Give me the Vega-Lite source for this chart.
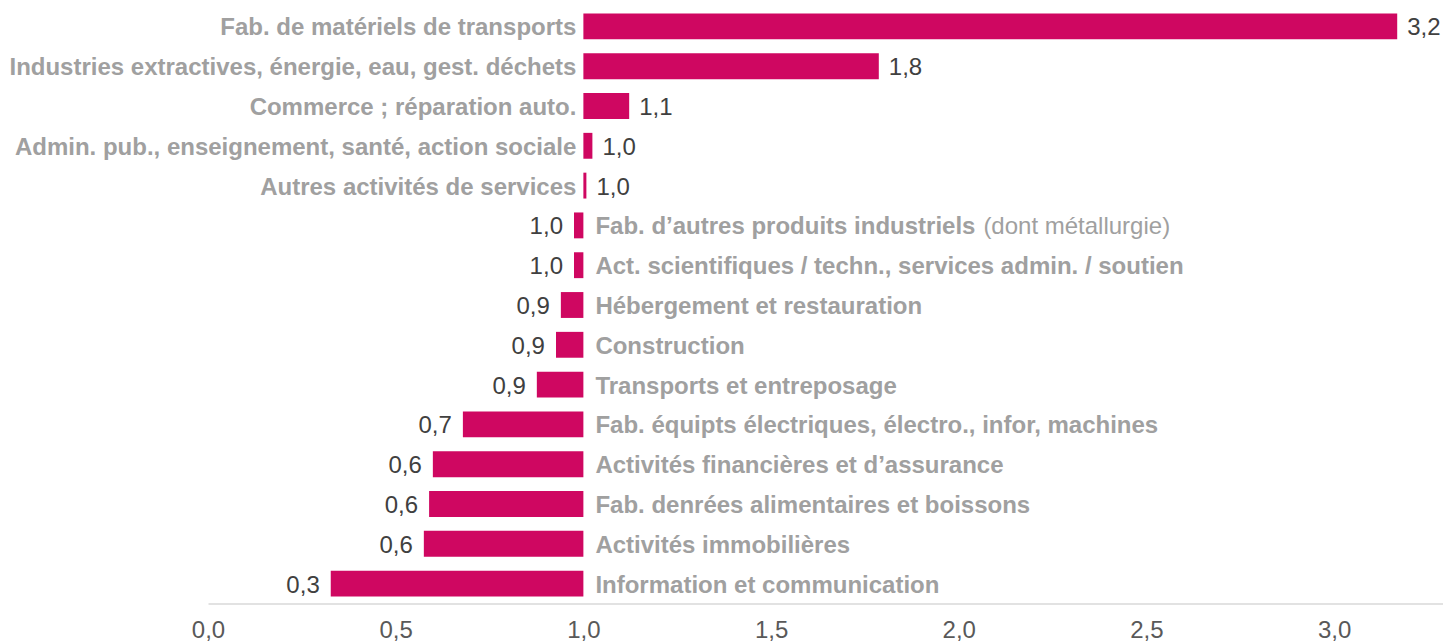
{
  "$schema": "https://vega.github.io/schema/vega-lite/v6.json",
  "width": 1235,
  "height": 597,
  "autosize": {"type": "none"},
  "padding": {"left": 208, "top": 6.5, "right": 0, "bottom": 39.5},
  "background": "white",
  "config": {
    "view": {"stroke": null},
    "font": "Liberation Sans",
    "locale": {"number": {"decimal": ",", "thousands": " ", "grouping": [3], "currency": ["", " €"]}}
  },
  "data": {
    "values": [
      {"cat": "Fab. de matériels de transports", "value": 3.168},
      {"cat": "Industries extractives, énergie, eau, gest. déchets", "value": 1.787},
      {"cat": "Commerce ; réparation auto.", "value": 1.122},
      {"cat": "Admin. pub., enseignement, santé, action sociale", "value": 1.024},
      {"cat": "Autres activités de services", "value": 1.008},
      {"cat": "Fab. d’autres produits industriels", "note": "(dont métallurgie)", "value": 0.975},
      {"cat": "Act. scientifiques / techn., services admin. / soutien", "value": 0.975},
      {"cat": "Hébergement et restauration", "value": 0.94},
      {"cat": "Construction", "value": 0.927},
      {"cat": "Transports et entreposage", "value": 0.876},
      {"cat": "Fab. équipts électriques, électro., infor, machines", "value": 0.679},
      {"cat": "Activités financières et d’assurance", "value": 0.599},
      {"cat": "Fab. denrées alimentaires et boissons", "value": 0.589},
      {"cat": "Activités immobilières", "value": 0.575},
      {"cat": "Information et communication", "value": 0.327}
    ]
  },
  "encoding": {
    "y": {"field": "cat", "type": "nominal", "sort": null, "axis": null,
          "scale": {"paddingInner": 0.35, "paddingOuter": 0.175}}
  },
  "layer": [
    {
      "mark": {"type": "bar", "color": "#cf0761"},
      "encoding": {
        "x": {"field": "value", "type": "quantitative",
              "scale": {"domain": [0, 3.29], "nice": false},
              "axis": {"values": [0, 0.5, 1, 1.5, 2, 2.5, 3], "format": ".1f", "title": null,
                       "grid": false, "ticks": false, "domainColor": "#d9d9d9", "domainWidth": 1.5,
                       "labelFlush": false, "labelOverlap": false,
                       "labelFontSize": 24, "labelColor": "#595959", "labelPadding": 15, "labelFont": "Liberation Sans"}},
        "x2": {"datum": 1}
      }
    },
    {
      "transform": [{"filter": "datum.value >= 1"}],
      "mark": {"type": "text", "align": "right", "baseline": "middle", "dx": -7, "dy": 2, "fontSize": 24, "fontWeight": "bold", "color": "#a0a0a0"},
      "encoding": {"x": {"datum": 1, "type": "quantitative"}, "text": {"field": "cat"}}
    },
    {
      "transform": [{"filter": "datum.value < 1"}],
      "mark": {"type": "text", "align": "left", "baseline": "middle", "dx": 12, "dy": 2, "fontSize": 24, "fontWeight": "bold", "color": "#a0a0a0"},
      "encoding": {"x": {"datum": 1, "type": "quantitative"}, "text": {"field": "cat"}}
    },
    {
      "transform": [{"filter": "isValid(datum.note)"}],
      "mark": {"type": "text", "align": "left", "baseline": "middle", "dx": 400, "dy": 2, "fontSize": 24, "color": "#a0a0a0"},
      "encoding": {"x": {"datum": 1, "type": "quantitative"}, "text": {"field": "note"}}
    },
    {
      "transform": [{"filter": "datum.value >= 1"}],
      "mark": {"type": "text", "align": "left", "baseline": "middle", "dx": 10, "dy": 2, "fontSize": 24, "color": "#404040"},
      "encoding": {"x": {"field": "value", "type": "quantitative"}, "text": {"field": "value", "format": ".1f"}}
    },
    {
      "transform": [{"filter": "datum.value < 1"}],
      "mark": {"type": "text", "align": "right", "baseline": "middle", "dx": -11, "dy": 2, "fontSize": 24, "color": "#404040"},
      "encoding": {"x": {"field": "value", "type": "quantitative"}, "text": {"field": "value", "format": ".1f"}}
    }
  ]
}
